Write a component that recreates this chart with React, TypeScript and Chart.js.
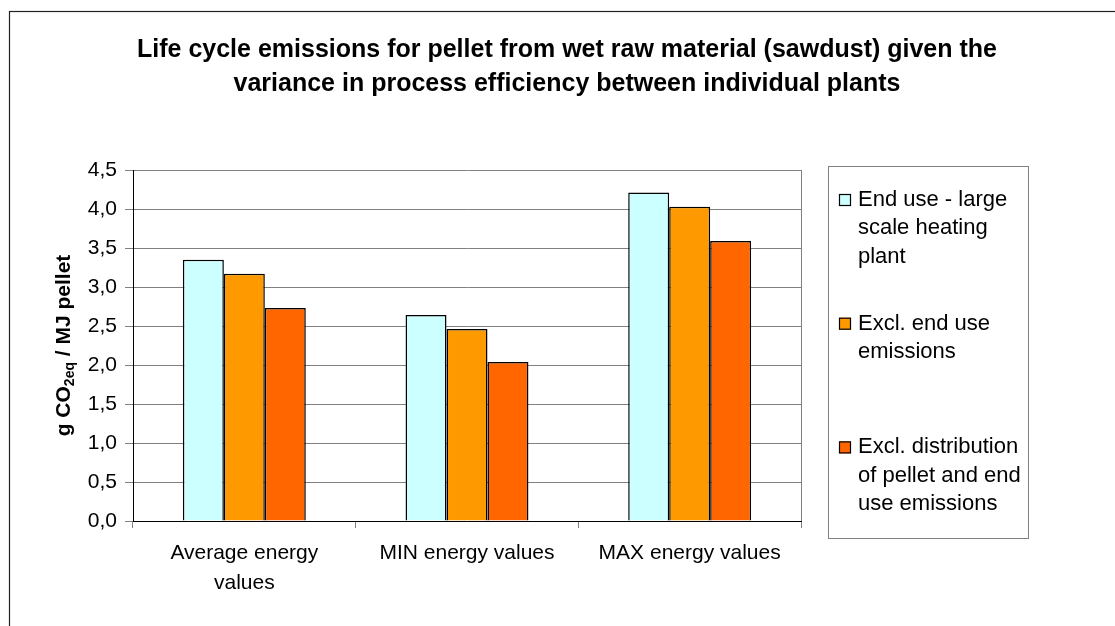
import React, { useEffect, useRef } from 'react';
import { Chart, registerables } from 'chart.js';

Chart.register(...registerables);

const FONT = '"Liberation Sans", Arial, Helvetica, sans-serif';

const titleLines = [
  'Life cycle emissions for pellet from wet raw material (sawdust) given the',
  'variance in process efficiency between individual plants',
];
const categories: (string | string[])[] = [['Average energy', 'values'], 'MIN energy values', 'MAX energy values'];
const seriesNames = [
  ['End use - large', 'scale heating', 'plant'],
  ['Excl. end use', 'emissions'],
  ['Excl. distribution', 'of pellet and end', 'use emissions'],
];
const endUseLargeScale = [3.35, 2.64, 4.21];
const exclEndUse = [3.17, 2.46, 4.03];
const exclDistribution = [2.73, 2.04, 3.59];
const seriesColors = ['#CCFFFF', '#FF9900', '#FF6600'];
const yTickLabels = ['0,0', '0,5', '1,0', '1,5', '2,0', '2,5', '3,0', '3,5', '4,0', '4,5'];
const yTitleParts = [
  { text: 'g CO', sub: false },
  { text: '2eq', sub: true },
  { text: ' / MJ pellet', sub: false },
];

const decorPlugin = {
  id: 'decor',
  beforeDraw(chart: any) {
    const ctx = chart.ctx;
    ctx.save();
    ctx.fillStyle = '#fff';
    ctx.fillRect(0, 0, chart.width, chart.height);
    ctx.strokeStyle = '#222';
    ctx.lineWidth = 1.2;
    ctx.strokeRect(9.5, 11.5, chart.width + 40, chart.height + 40);
    ctx.restore();
  },
  afterDraw(chart: any) {
    const { ctx, chartArea } = chart;
    ctx.save();
    // right border of plot area
    ctx.strokeStyle = '#808080';
    ctx.lineWidth = 1;
    const rx = Math.round(chartArea.right) + 0.5;
    ctx.beginPath();
    ctx.moveTo(rx, chartArea.top);
    ctx.lineTo(rx, chartArea.bottom);
    ctx.stroke();

    // title
    ctx.fillStyle = '#000';
    ctx.font = `bold 25px ${FONT}`;
    ctx.textAlign = 'center';
    ctx.textBaseline = 'middle';
    titleLines.forEach((l, i) => ctx.fillText(l, 567, 50 + i * 34));

    // y-axis title with subscript
    ctx.save();
    ctx.translate(62, (chartArea.top + chartArea.bottom) / 2);
    ctx.rotate(-Math.PI / 2);
    ctx.textAlign = 'left';
    ctx.textBaseline = 'alphabetic';
    const mainFont = `bold 21px ${FONT}`;
    const subFont = `bold 14px ${FONT}`;
    let total = 0;
    const widths = yTitleParts.map((p) => {
      ctx.font = p.sub ? subFont : mainFont;
      const w = ctx.measureText(p.text).width;
      total += w;
      return w;
    });
    let x = -total / 2;
    yTitleParts.forEach((p, i) => {
      ctx.font = p.sub ? subFont : mainFont;
      ctx.fillText(p.text, x, p.sub ? 12 : 7.5);
      x += widths[i];
    });
    ctx.restore();

    // legend
    ctx.strokeStyle = '#808080';
    ctx.lineWidth = 1;
    ctx.strokeRect(828.5, 166.5, 200, 372);
    ctx.font = `22px ${FONT}`;
    ctx.textAlign = 'left';
    ctx.textBaseline = 'middle';
    chart.data.datasets.forEach((ds: any, i: number) => {
      const y0 = 200 + i * 123.7;
      ctx.fillStyle = ds.backgroundColor;
      ctx.fillRect(839, y0 - 6, 12, 12);
      ctx.strokeStyle = '#000';
      ctx.lineWidth = 1.2;
      ctx.strokeRect(839.5, y0 - 5.5, 11, 11);
      ctx.fillStyle = '#000';
      seriesNames[i].forEach((line, j) => ctx.fillText(line, 858, y0 + j * 28.4));
    });
    ctx.restore();
  },
};

export default function App() {
  const ref = useRef<HTMLCanvasElement | null>(null);
  useEffect(() => {
    if (!ref.current) return;
    const seriesData = [endUseLargeScale, exclEndUse, exclDistribution];
    const chart = new Chart(ref.current, {
      type: 'bar',
      data: {
        labels: categories as any,
        datasets: seriesData.map((d, i) => ({
          label: seriesNames[i].join(' '),
          data: d,
          backgroundColor: seriesColors[i],
          borderColor: '#000',
          borderWidth: 1.5,
          categoryPercentage: 0.552,
          barPercentage: 1,
        })),
      },
      options: {
        animation: false,
        responsive: false,
        maintainAspectRatio: false,
        layout: { padding: { top: 170, right: 314, left: 0, bottom: 0 } },
        plugins: {
          legend: { display: false },
          title: { display: false },
          tooltip: { enabled: false },
        },
        scales: {
          x: {
            grid: {
              display: true,
              drawOnChartArea: false,
              drawTicks: true,
              tickLength: 7,
              color: '#808080',
              offset: true,
            },
            border: { display: true, color: '#000', width: 1 },
            ticks: {
              font: { family: FONT, size: 21, lineHeight: 1.43 },
              color: '#000',
              padding: 10,
              maxRotation: 0,
              autoSkip: false,
            },
            afterFit: (s: any) => {
              s.height = 105;
            },
          },
          y: {
            min: 0,
            max: 4.5,
            ticks: {
              stepSize: 0.5,
              callback: (_v: any, i: number) => yTickLabels[i],
              font: { family: FONT, size: 21 },
              color: '#000',
              padding: 8,
            },
            grid: { color: '#808080', tickLength: 8 },
            border: { color: '#000', width: 1 },
            afterFit: (s: any) => {
              s.width = 133;
            },
          },
        },
      },
      plugins: [decorPlugin],
    });
    return () => chart.destroy();
  }, []);
  return (
    <div style={{ position: 'absolute', left: 0, top: 0, width: 1115, height: 626 }}>
      <canvas ref={ref} width={1115} height={626} style={{ width: 1115, height: 626, display: 'block' }} />
    </div>
  );
}
